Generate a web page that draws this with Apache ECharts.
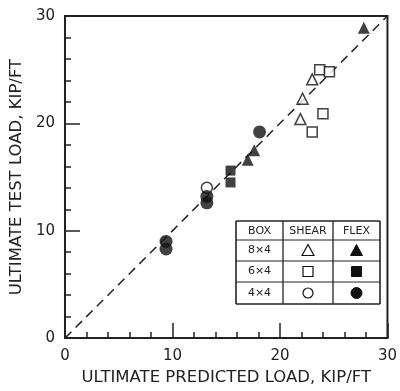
<!DOCTYPE html>
<html>
<head>
<meta charset="utf-8">
<script src="https://cdn.jsdelivr.net/npm/echarts@6/dist/echarts.min.js"></script>
<style>
  html, body { margin: 0; padding: 0; background: #fff; }
  #chart { width: 400px; height: 391px; }
</style>
</head>
<body>
<div id="chart"></div>
<script>
// predicted load (x) vs test load (y), kip/ft
const shear8x4 = [[23.0, 24.1], [22.1, 22.3], [21.9, 20.4]]
const shear6x4 = [[23.7, 25.0], [24.6, 24.8], [24.0, 20.9], [23.0, 19.2]]
const shear4x4 = [[13.2, 14.0]]
const flex8x4 = [[27.8, 28.9], [17.6, 17.5], [17.0, 16.6]]
const flex6x4 = [[15.4, 15.6], [15.4, 14.5]]
const flex4x4 = [[18.1, 19.2], [13.2, 13.2], [13.2, 12.6], [9.4, 9.0], [9.4, 8.3]]
const equalityLine = [[0, 0], [30, 30]]

const boxRows = ['8×4', '6×4', '4×4']
const headers = ['BOX', 'SHEAR', 'FLEX']

const ink = '#222'
const markInk = '#111'
const font = 'DejaVu Sans'

const chart = echarts.init(document.getElementById('chart'))

function scatter(name, data, symbol, size, open) {
  return {
    name, type: 'scatter', data, symbol, symbolSize: size,
    itemStyle: open
      ? { color: '#fff', borderColor: markInk, borderWidth: 1.5 }
      : { color: markInk },
    z: 5,
  }
}

// legend table (drawn as graphic, pixel positions)
function tableGraphic() {
  const x0 = 236, y0 = 221, x1 = 380, y1 = 304
  const cols = [x0, 283, 333, x1]
  const rows = [y0, 240, 261, 282, y1]
  const els = []
  const ln = (a, b, c, d, w) => els.push({
    type: 'line', shape: { x1: a, y1: b, x2: c, y2: d },
    style: { stroke: ink, lineWidth: w || 1.3 },
  })
  ln(x0, y0, x1, y0, 1.6); ln(x0, y1, x1, y1, 1.6)
  ln(x0, y0, x0, y1, 1.6); ln(x1, y0, x1, y1, 1.6)
  ln(cols[1], y0, cols[1], y1); ln(cols[2], y0, cols[2], y1)
  for (let i = 1; i < 4; i++) ln(x0, rows[i], x1, rows[i], 1)
  const txt = (s, x, y) => els.push({
    type: 'text', x, y,
    style: { text: s, font: '11px "' + font + '"', fill: ink, align: 'center', verticalAlign: 'middle' },
  })
  headers.forEach((h, i) => txt(h, (cols[i] + cols[i + 1]) / 2, (rows[0] + rows[1]) / 2 + 1))
  boxRows.forEach((r, i) => txt(r, (cols[0] + cols[1]) / 2, (rows[i + 1] + rows[i + 2]) / 2))
  const cs = (cols[1] + cols[2]) / 2, cf = (cols[2] + cols[3]) / 2
  const cy = i => (rows[i + 1] + rows[i + 2]) / 2
  const open = { fill: '#fff', stroke: markInk, lineWidth: 1.2 }
  const solid = { fill: markInk, stroke: markInk, lineWidth: 1 }
  const tri = (cx, y, st) => els.push({
    type: 'polygon', shape: { points: [[cx, y - 6], [cx - 6, y + 5], [cx + 6, y + 5]] }, style: st,
  })
  tri(cs, cy(0), open); tri(cf, cy(0), solid)
  els.push({ type: 'rect', shape: { x: cs - 5, y: cy(1) - 5, width: 10, height: 10 }, style: open })
  els.push({ type: 'rect', shape: { x: cf - 5, y: cy(1) - 5, width: 10, height: 10 }, style: solid })
  els.push({ type: 'circle', shape: { cx: cs, cy: cy(2), r: 5 }, style: open })
  els.push({ type: 'circle', shape: { cx: cf, cy: cy(2), r: 5.5 }, style: solid })
  return els
}

const axisCommon = {
  type: 'value', min: 0, max: 30, interval: 10,
  nameLocation: 'middle',
  nameTextStyle: { fontFamily: font, fontSize: 16.5, color: ink },
  axisLine: { show: true, lineStyle: { color: ink, width: 2 } },
  axisTick: { show: true, inside: true, length: 15, lineStyle: { color: ink, width: 1.5 } },
  minorTick: { show: true, splitNumber: 5, length: 6, lineStyle: { color: ink, width: 1.5 } },
  splitLine: { show: false },
  axisLabel: { fontFamily: font, fontSize: 15, color: ink },
}

chart.setOption({
  backgroundColor: '#fff',
  animation: false,
  grid: { left: 64, right: 8, top: 16, bottom: 48, show: true, borderColor: ink, borderWidth: 2 },
  xAxis: {
    ...axisCommon,
    name: 'ULTIMATE PREDICTED LOAD, KIP/FT',
    nameGap: 29,
    axisLabel: { ...axisCommon.axisLabel, margin: 11 },
  },
  yAxis: {
    ...axisCommon,
    name: 'ULTIMATE TEST LOAD, KIP/FT',
    nameGap: 37,
    axisLabel: { ...axisCommon.axisLabel, margin: 10 },
  },
  series: [
    {
      name: 'equality', type: 'line', data: equalityLine, symbol: 'none',
      lineStyle: { color: ink, width: 1.5, type: [9, 6] }, z: 2,
    },
    scatter('shear 8x4', shear8x4, 'triangle', 11, true),
    scatter('shear 6x4', shear6x4, 'rect', 10, true),
    scatter('shear 4x4', shear4x4, 'circle', 11, true),
    scatter('flex 8x4', flex8x4, 'triangle', 12, false),
    scatter('flex 6x4', flex6x4, 'rect', 10, false),
    scatter('flex 4x4', flex4x4, 'circle', 13, false),
  ],
  graphic: tableGraphic(),
})
</script>
</body>
</html>
